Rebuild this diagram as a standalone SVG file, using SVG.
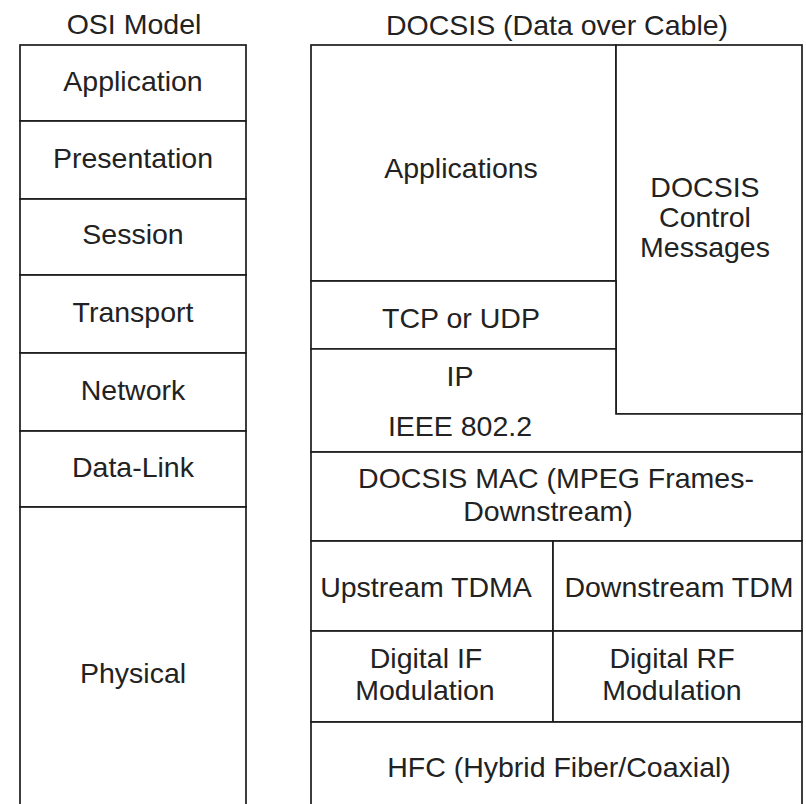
<svg xmlns="http://www.w3.org/2000/svg" width="806" height="804" viewBox="0 0 806 804">
  <style>
    .cell { fill: #ffffff; stroke: #1c1c1c; stroke-width: 1.7; }
    .lbl { font-family: "Liberation Sans", Arial, sans-serif; font-size: 28.5px; fill: #222222; text-anchor: middle; }
  </style>
  <rect width="806" height="804" fill="#ffffff"/>

  <!-- Column titles -->
  <text class="lbl" x="134" y="34">OSI Model</text>
  <text class="lbl" x="557" y="35">DOCSIS (Data over Cable)</text>

  <!-- OSI reference model stack -->
  <g id="osi-application">
    <rect class="cell" x="20" y="45" width="226" height="76"/>
    <text class="lbl" x="133" y="91">Application</text>
  </g>
  <g id="osi-presentation">
    <rect class="cell" x="20" y="121" width="226" height="78"/>
    <text class="lbl" x="133" y="168">Presentation</text>
  </g>
  <g id="osi-session">
    <rect class="cell" x="20" y="199" width="226" height="76"/>
    <text class="lbl" x="133" y="244">Session</text>
  </g>
  <g id="osi-transport">
    <rect class="cell" x="20" y="275" width="226" height="78"/>
    <text class="lbl" x="133" y="322">Transport</text>
  </g>
  <g id="osi-network">
    <rect class="cell" x="20" y="353" width="226" height="78"/>
    <text class="lbl" x="133" y="400">Network</text>
  </g>
  <g id="osi-datalink">
    <rect class="cell" x="20" y="431" width="226" height="76"/>
    <text class="lbl" x="133" y="477">Data-Link</text>
  </g>
  <g id="osi-physical">
    <rect class="cell" x="20" y="507" width="226" height="320"/>
    <text class="lbl" x="133" y="683">Physical</text>
  </g>

  <!-- DOCSIS protocol stack -->
  <g id="docsis-applications">
    <rect class="cell" x="311" y="45" width="305" height="236"/>
    <text class="lbl" x="461" y="178">Applications</text>
  </g>
  <g id="docsis-control">
    <rect class="cell" x="616" y="45" width="186" height="369"/>
    <text class="lbl" x="705" y="197">DOCSIS</text>
    <text class="lbl" x="705" y="227">Control</text>
    <text class="lbl" x="705" y="257">Messages</text>
  </g>
  <g id="docsis-tcp-udp">
    <rect class="cell" x="311" y="281" width="305" height="68"/>
    <text class="lbl" x="461" y="328">TCP or UDP</text>
  </g>
  <g id="docsis-ip-llc">
    <path class="cell" d="M311,349 H616 V414 H802 V452 H311 Z"/>
    <text class="lbl" x="460" y="386">IP</text>
    <text class="lbl" x="460" y="436">IEEE 802.2</text>
  </g>
  <g id="docsis-mac">
    <rect class="cell" x="311" y="452" width="491" height="89"/>
    <text class="lbl" x="556" y="488">DOCSIS MAC (MPEG Frames-</text>
    <text class="lbl" x="548" y="521">Downstream)</text>
  </g>
  <g id="docsis-upstream-tdma">
    <rect class="cell" x="311" y="541" width="242" height="90"/>
    <text class="lbl" x="426" y="597">Upstream TDMA</text>
  </g>
  <g id="docsis-downstream-tdm">
    <rect class="cell" x="553" y="541" width="249" height="90"/>
    <text class="lbl" x="679" y="597">Downstream TDM</text>
  </g>
  <g id="docsis-if-mod">
    <rect class="cell" x="311" y="631" width="242" height="91"/>
    <text class="lbl" x="426" y="668">Digital IF</text>
    <text class="lbl" x="425" y="700">Modulation</text>
  </g>
  <g id="docsis-rf-mod">
    <rect class="cell" x="553" y="631" width="249" height="91"/>
    <text class="lbl" x="672" y="668">Digital RF</text>
    <text class="lbl" x="672" y="700">Modulation</text>
  </g>
  <g id="docsis-hfc">
    <rect class="cell" x="311" y="722" width="491" height="110"/>
    <text class="lbl" x="559" y="777">HFC (Hybrid Fiber/Coaxial)</text>
  </g>
</svg>
